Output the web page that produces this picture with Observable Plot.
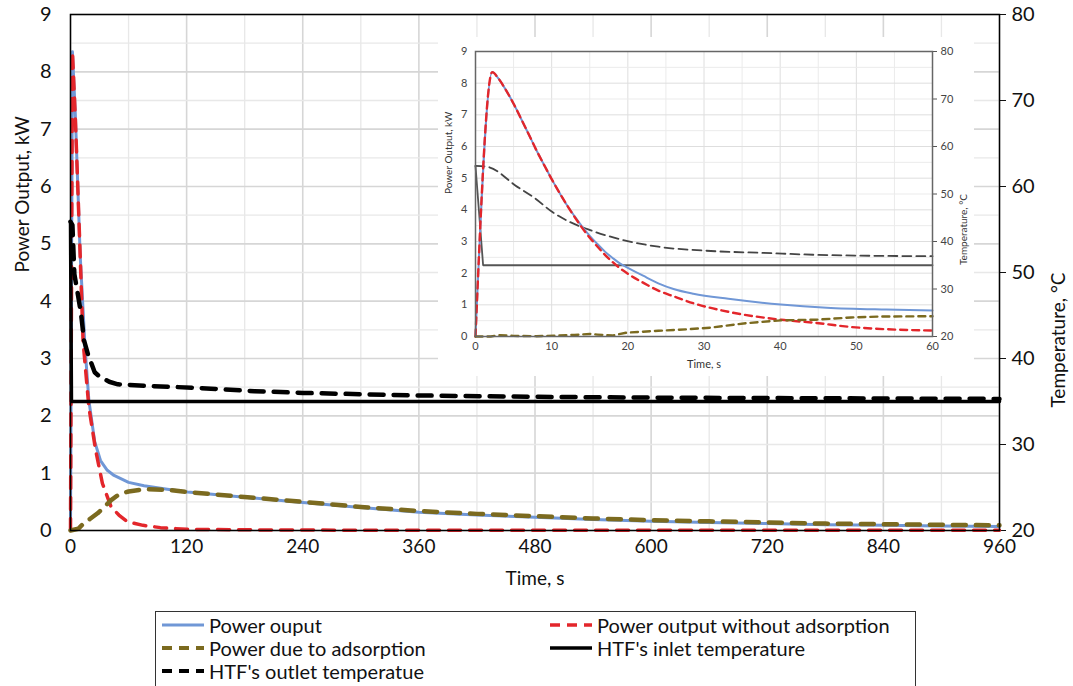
<!DOCTYPE html>
<html><head><meta charset="utf-8">
<script src="https://cdn.jsdelivr.net/npm/d3@7"></script>
<script src="https://cdn.jsdelivr.net/npm/@observablehq/plot@0.6"></script>
<style>
body{margin:0;background:#fff;font-family:Lato,"Open Sans",sans-serif;}
#wrap{position:relative;width:1073px;height:686px;overflow:hidden;background:#fff;}
#main{position:absolute;left:0;top:0;}
#inset{position:absolute;left:438px;top:37px;width:536px;height:339px;background:#fff;}
#legend{position:absolute;left:155px;top:611px;width:761px;height:90px;border:1.5px solid #333;box-sizing:border-box;background:#fff;}
.item{position:absolute;display:flex;align-items:center;font-size:20px;color:#111;white-space:nowrap;line-height:1;}
.item svg{margin-right:3px;}
</style>
</head><body>
<div id="wrap"><div id="main"></div><div id="inset"></div><div id="legend"></div></div>
<script>
// ---------- data (t in s; power in kW; temperature in °C) ----------
const xTicksMain = [0,120,240,360,480,600,720,840,960];
const xMinorMain = [60,180,300,420,540,660,780,900];
const yTicksPower = [0,1,2,3,4,5,6,7,8,9];
const yMinorPower = [0.5,1.5,2.5,3.5,4.5,5.5,6.5,7.5,8.5];
const tempTicks = [20,30,40,50,60,70,80];
const xTicksInset = [0,10,20,30,40,50,60];
const xMinorInset = [5,15,25,35,45,55];

const powerOutputMain = [[0,0],[2,8.35],[5,7.25],[10,4.8],[15,3.2],[19,2.27],[25,1.55],[31,1.22],[38,1.05],[45,0.96],[60,0.84],[76,0.78],[100,0.72],[121,0.67],[180,0.58],[240,0.49],[300,0.40],[360,0.32],[420,0.27],[480,0.23],[540,0.19],[600,0.16],[660,0.14],[720,0.12],[780,0.10],[840,0.09],[900,0.08],[960,0.07]];
const powerNoAdsMain = [[0,0],[2,8.35],[5,7.2],[10,4.8],[13,3.3],[19,2.15],[26,1.4],[33,0.82],[42,0.41],[50,0.27],[59,0.15],[75,0.09],[93,0.05],[120,0.02],[200,0.01],[300,0.005],[960,0.005]];
const powerAdsMain = [[0,0],[8,0.03],[14,0.13],[20,0.2],[28,0.3],[35,0.41],[42,0.53],[50,0.63],[60,0.68],[76,0.72],[100,0.71],[121,0.67],[183,0.58],[240,0.5],[300,0.41],[360,0.34],[420,0.29],[480,0.25],[540,0.21],[600,0.18],[660,0.16],[720,0.14],[780,0.12],[840,0.11],[900,0.10],[960,0.09]];
const inletTempMain = [[0,55.9],[1,35],[960,35]];
const outletTempMain = [[0,55.9],[2,55.5],[4,49.8],[8,47.2],[11,45.1],[14,42.1],[18,40.5],[25,38.4],[30,37.9],[40,37.3],[49,37.0],[80,36.8],[128,36.6],[190,36.2],[240,36.0],[360,35.7],[480,35.55],[600,35.45],[720,35.4],[840,35.35],[960,35.3]];

const powerOutputInset = [[0,0],[2.2,8.35],[3,8.15],[4,7.78],[5,7.35],[6,6.87],[7,6.38],[8,5.88],[9,5.42],[10,4.97],[11,4.55],[12,4.15],[13,3.8],[14,3.47],[15,3.18],[16,2.92],[17,2.68],[18,2.48],[19,2.3],[20,2.17],[22,1.92],[24,1.68],[26,1.5],[28.6,1.35],[33.2,1.19],[40.1,1.01],[46.1,0.91],[53.9,0.85],[60,0.82]];
const powerNoAdsInset = [[0,0],[2.2,8.35],[3,8.15],[4,7.78],[5,7.35],[6,6.87],[7,6.38],[8,5.88],[9,5.42],[10,4.97],[11,4.55],[12,4.15],[13,3.78],[14,3.43],[15,3.12],[16,2.84],[17,2.58],[18,2.35],[19,2.15],[20,1.98],[22,1.7],[24,1.45],[26,1.27],[28.6,1.05],[33.2,0.78],[40.1,0.53],[44.7,0.43],[49.3,0.30],[53.9,0.23],[60,0.19]];
const powerAdsInset = [[0,0],[2,0],[3,0.04],[5,0.02],[8,0.01],[11,0.03],[13,0.05],[15,0.08],[16,0.06],[18,0.03],[19.8,0.12],[24,0.18],[28,0.23],[30.9,0.28],[35.5,0.42],[40.1,0.51],[44.7,0.53],[49.3,0.6],[53,0.63],[60,0.64]];
const inletTempInset = [[0,55.9],[1,35],[60,35]];
const outletTempInset = [[0,55.9],[1.6,55.7],[5.5,51.5],[7.8,49.1],[10.1,46.2],[12.4,44.1],[14.7,42.6],[19.4,40.3],[24,38.9],[30.9,38.0],[37.8,37.6],[44.7,37.2],[60,36.9]];

// ---------- helpers ----------
const toP = T => (T - 20) * 9 / 60;        // temperature -> power-axis units
const fromP = p => Math.round(20 + p * 60 / 9);
const rowsP = a => a.map(([t, v]) => ({t, v}));
const rowsT = a => a.map(([t, T]) => ({t, v: toP(T)}));

const BLUE = "#7097d6", RED = "#e3262b", OLIVE = "#7b6a1f", BLACK = "#000";

// ---------- main chart ----------
const main = Plot.plot({
  width: 1073, height: 600,
  marginLeft: 70, marginRight: 74, marginTop: 14, marginBottom: 70,
  x: {domain: [0, 960]}, y: {domain: [0, 9]},
  style: {fontFamily: "Lato, sans-serif", fontSize: "20px", color: "#111", background: "transparent"},
  marks: [
    Plot.ruleX(xMinorMain, {stroke: "#e8e8e8", strokeWidth: 1.3}),
    Plot.ruleX(xTicksMain, {stroke: "#d6d6d6", strokeWidth: 1.6}),
    Plot.ruleY(yMinorPower, {stroke: "#e8e8e8", strokeWidth: 1.3}),
    Plot.ruleY(yTicksPower, {stroke: "#d6d6d6", strokeWidth: 1.6}),
    Plot.axisX({ticks: xTicksMain, tickSize: 0, tickPadding: 9, fontSize: 19, label: null}),
    Plot.axisY({ticks: yTicksPower, tickSize: 0, tickPadding: 19, fontSize: 20, label: null}),
    Plot.axisY({anchor: "right", ticks: tempTicks.map(toP), tickFormat: fromP, tickSize: 6, tickPadding: 6, fontSize: 20, label: null}),
    Plot.line(rowsP(powerOutputMain), {x: "t", y: "v", stroke: BLUE, strokeWidth: 3}),
    Plot.line(rowsP(powerNoAdsMain), {x: "t", y: "v", stroke: RED, strokeWidth: 3.5, strokeDasharray: "12,9"}),
    Plot.line(rowsP(powerAdsMain), {x: "t", y: "v", stroke: OLIVE, strokeWidth: 4.5, strokeDasharray: "13,10"}),
    Plot.line(rowsT(inletTempMain), {x: "t", y: "v", stroke: BLACK, strokeWidth: 3.5}),
    Plot.line(rowsT(outletTempMain), {x: "t", y: "v", stroke: BLACK, strokeWidth: 4.5, strokeDasharray: "14,10"}),
    Plot.frame({stroke: "#000", strokeWidth: 1.5}),
    Plot.text(["Power Output, kW"], {text: d => d, frameAnchor: "left", dx: -48, rotate: -90, fontSize: 19}),
    Plot.text(["Temperature, °C"], {text: d => d, frameAnchor: "right", dx: 59, rotate: -90, fontSize: 19}),
    Plot.text(["Time, s"], {text: d => d, frameAnchor: "bottom", dy: 54, fontSize: 19})
  ]
});
document.getElementById("main").appendChild(main);

// ---------- inset chart ----------
const inset = Plot.plot({
  width: 536, height: 339,
  marginLeft: 37, marginRight: 42, marginTop: 14, marginBottom: 40,
  x: {domain: [0, 60]}, y: {domain: [0, 9]},
  style: {fontFamily: "Lato, sans-serif", fontSize: "11px", color: "#444", background: "#fff"},
  marks: [
    Plot.ruleX(xMinorInset, {stroke: "#ebebeb"}),
    Plot.ruleX(xTicksInset, {stroke: "#dedede"}),
    Plot.ruleY(yMinorPower, {stroke: "#ebebeb"}),
    Plot.ruleY(yTicksPower, {stroke: "#dedede"}),
    Plot.axisX({ticks: xTicksInset, tickSize: 0, tickPadding: 6, fontSize: 11, label: null}),
    Plot.axisY({ticks: yTicksPower, tickSize: 0, tickPadding: 8, fontSize: 11, label: null}),
    Plot.axisY({anchor: "right", ticks: tempTicks.map(toP), tickFormat: fromP, tickSize: 4, tickPadding: 4, fontSize: 11, label: null, stroke: "#555"}),
    Plot.line(rowsT(inletTempInset), {x: "t", y: "v", stroke: "#555", strokeWidth: 1.8}),
    Plot.line(rowsT(outletTempInset), {x: "t", y: "v", stroke: "#444", strokeWidth: 1.8, strokeDasharray: "9,5", curve: "monotone-x"}),
    Plot.line(rowsP(powerOutputInset), {x: "t", y: "v", stroke: BLUE, strokeWidth: 2, curve: "monotone-x"}),
    Plot.line(rowsP(powerNoAdsInset), {x: "t", y: "v", stroke: RED, strokeWidth: 2.4, strokeDasharray: "7,5", curve: "monotone-x"}),
    Plot.line(rowsP(powerAdsInset), {x: "t", y: "v", stroke: OLIVE, strokeWidth: 2.4, strokeDasharray: "7,5"}),
    Plot.frame({stroke: "#666", strokeWidth: 1.5}),
    Plot.text(["Power Output, kW"], {text: d => d, frameAnchor: "left", dx: -27, rotate: -90, fontSize: 10, fill: "#333"}),
    Plot.text(["Temperature, °C"], {text: d => d, frameAnchor: "right", dx: 31, rotate: -90, fontSize: 10, fill: "#333"}),
    Plot.text(["Time, s"], {text: d => d, frameAnchor: "bottom", dy: 31, fontSize: 11, fill: "#333"})
  ]
});
document.getElementById("inset").appendChild(inset);

// ---------- legend ----------
const legendItems = [
  {label: "Power ouput", color: BLUE, dash: null, w: 3, left: 4, top: 14},
  {label: "Power output without adsorption", color: RED, dash: "10,7", w: 3.5, left: 392, top: 14},
  {label: "Power due to adsorption", color: OLIVE, dash: "10,7", w: 4, left: 4, top: 37},
  {label: "HTF's inlet temperature", color: BLACK, dash: null, w: 3.5, left: 392, top: 37},
  {label: "HTF's outlet temperatue", color: BLACK, dash: "10,7", w: 4, left: 4, top: 60}
];
const lg = document.getElementById("legend");
for (const it of legendItems) {
  const d = document.createElement("div");
  d.className = "item";
  d.style.left = it.left + "px";
  d.style.top = (it.top - 11) + "px";
  d.innerHTML = `<svg width="46" height="10"><line x1="2" x2="44" y1="5" y2="5" stroke="${it.color}" stroke-width="${it.w}" ${it.dash ? `stroke-dasharray="${it.dash}"` : ""}/></svg><span>${it.label}</span>`;
  lg.appendChild(d);
}
</script>
</body></html>
